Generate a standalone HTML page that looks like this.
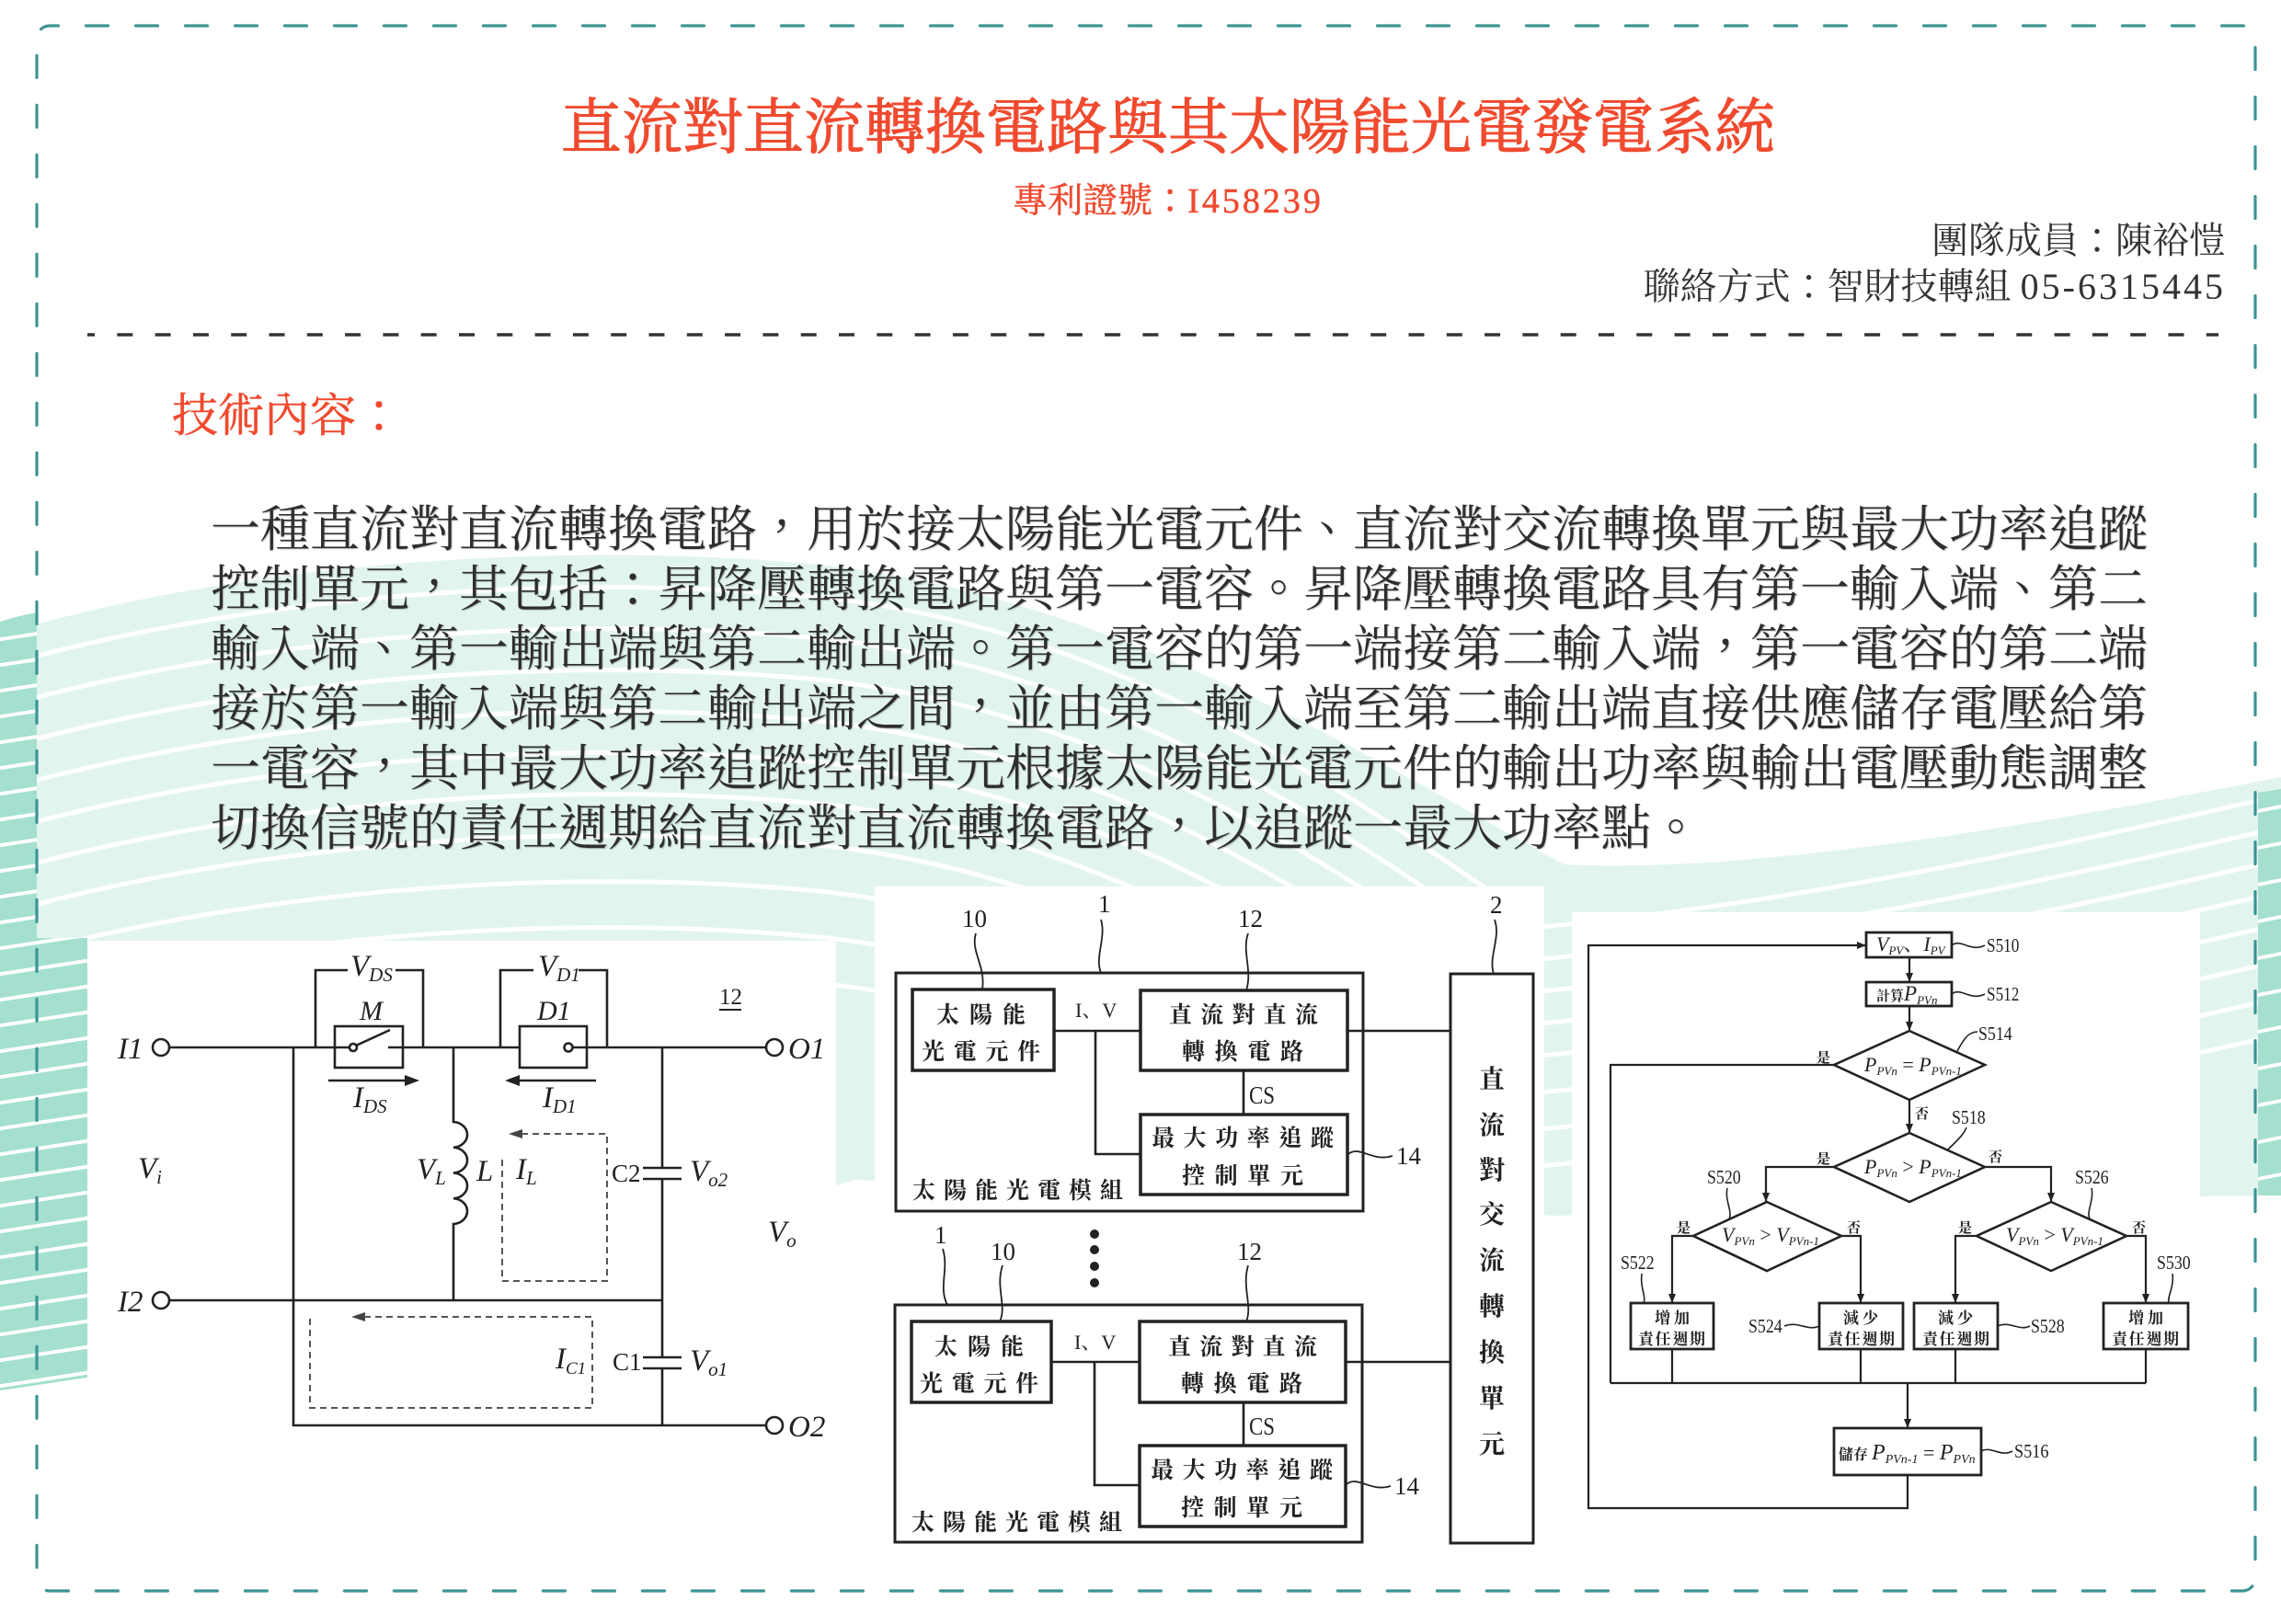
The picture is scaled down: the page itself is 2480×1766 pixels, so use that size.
<!DOCTYPE html>
<html lang="zh-Hant">
<head>
<meta charset="utf-8">
<style>
  html,body{margin:0;padding:0;background:#fff;}
  body{width:2480px;height:1766px;position:relative;overflow:hidden;}
  .t{position:absolute;white-space:nowrap;font-family:"Liberation Serif","Noto Serif CJK SC",serif;}
  .title{left:0;width:2540px;text-align:center;top:107px;font-size:66px;line-height:66px;color:#f04a2f;-webkit-text-stroke:1px #f04a2f;}
  .pat{left:0;width:2540px;text-align:center;top:200px;font-size:38px;line-height:38px;color:#f04a2f;-webkit-text-stroke:0.5px #f04a2f;}
  .pat span{letter-spacing:3px;}
  .team{right:60px;top:242px;font-size:40px;line-height:40px;color:#333;}
  .contact{right:60px;top:292px;font-size:40px;line-height:40px;color:#333;}
  .contact span{letter-spacing:3px;}
  .sec{left:187px;top:427px;font-size:50px;line-height:50px;color:#f04a2f;-webkit-text-stroke:0.5px #f04a2f;}
  .body{left:229px;width:2104px;font-size:54px;line-height:54px;color:#2e2e2e;text-align:justify;text-align-last:justify;text-shadow:1px 1px 1px rgba(0,0,0,0.22);}
  .body.last{text-align-last:left;}
  svg{position:absolute;left:0;top:0;}
</style>
</head>
<body>

<!-- background -->
<svg width="2480" height="1766" viewBox="0 0 2480 1766">
  <defs>
    <clipPath id="mintc">
      <path d="M0 690 C250 615,600 585,900 615 C1200 650,1450 800,1700 940 C1900 950,2200 900,2480 845 L2480 1300 C2200 1302,1900 1315,1690 1322 C1400 1310,1100 1290,930 1283 C600 1380,300 1470,0 1512 Z"/>
    </clipPath>
    <clipPath id="darkc">
      <path d="M0 676 C15 671,30 668,40 666 L40 1020 L95 1020 L95 1498 C60 1503,30 1508,0 1512 Z M2455 862 L2480 858 L2480 1300 L2455 1300 Z"/>
    </clipPath>
  </defs>
  <path d="M0 690 C250 615,600 585,900 615 C1200 650,1450 800,1700 940 C1900 950,2200 900,2480 845 L2480 1300 C2200 1302,1900 1315,1690 1322 C1400 1310,1100 1290,930 1283 C600 1380,300 1470,0 1512 Z" fill="#e2f4ee"/>
  <g clip-path="url(#mintc)" fill="none" stroke="#fff" stroke-width="5">
    <path d="M-20 730 C250 650,600 620,900 650 C1200 685,1420 830,1650 990"/>
    <path d="M-20 775 C250 695,600 665,900 695 C1200 730,1420 875,1650 1035"/>
    <path d="M-20 820 C250 740,600 710,900 740 C1200 775,1420 920,1650 1080"/>
    <path d="M-20 865 C250 785,600 755,900 785 C1200 820,1420 965,1650 1125"/>
    <path d="M-20 910 C250 830,600 800,900 830 C1200 865,1420 1010,1650 1170"/>
    <path d="M-20 955 C250 875,600 845,900 875 C1200 910,1420 1055,1650 1215"/>
    <path d="M-20 1000 C250 920,600 890,900 920 C1200 955,1420 1100,1650 1260"/>
    <path d="M-20 1050 C250 970,600 940,900 970 C1200 1005,1420 1150,1650 1310"/>
    <path d="M-20 1100 C250 1020,600 990,900 1020 C1200 1055,1420 1200,1650 1360"/>
    <path d="M-20 1150 C250 1070,600 1040,900 1070 C1200 1105,1420 1250,1650 1410"/>
    <path d="M1650 1010 C1900 990,2200 930,2500 860"/>
    <path d="M1650 1045 C1900 1025,2200 965,2500 895"/>
    <path d="M1650 1080 C1900 1060,2200 1000,2500 930"/>
    <path d="M1650 1115 C1900 1095,2200 1035,2500 965"/>
    <path d="M1650 1150 C1900 1130,2200 1070,2500 1000"/>
    <path d="M1650 1190 C1900 1170,2200 1110,2500 1040"/>
    <path d="M1650 1230 C1900 1210,2200 1150,2500 1080"/>
    <path d="M1650 1270 C1900 1250,2200 1190,2500 1120"/>
  </g>
  <g clip-path="url(#darkc)">
    <rect x="0" y="600" width="2480" height="950" fill="#a4dfcf"/>
    <g stroke="#fff" stroke-width="4">
      <path d="M-5 696 L100 680"/><path d="M-5 724 L100 708"/><path d="M-5 752 L100 736"/><path d="M-5 780 L100 764"/>
      <path d="M-5 808 L100 792"/><path d="M-5 836 L100 820"/><path d="M-5 864 L100 848"/><path d="M-5 892 L100 876"/>
      <path d="M-5 920 L100 904"/><path d="M-5 948 L100 932"/><path d="M-5 976 L100 960"/><path d="M-5 1004 L100 988"/>
      <path d="M-5 1032 L100 1016"/><path d="M-5 1060 L100 1044"/><path d="M-5 1088 L100 1072"/><path d="M-5 1116 L100 1100"/>
      <path d="M-5 1144 L100 1128"/><path d="M-5 1172 L100 1156"/><path d="M-5 1200 L100 1184"/><path d="M-5 1228 L100 1212"/>
      <path d="M-5 1256 L100 1240"/><path d="M-5 1284 L100 1268"/><path d="M-5 1312 L100 1296"/><path d="M-5 1340 L100 1324"/>
      <path d="M-5 1368 L100 1352"/><path d="M-5 1396 L100 1380"/><path d="M-5 1424 L100 1408"/><path d="M-5 1452 L100 1436"/>
      <path d="M-5 1480 L100 1464"/><path d="M-5 1508 L100 1492"/>
      <path d="M2440 885 L2490 875"/><path d="M2440 925 L2490 915"/><path d="M2440 965 L2490 955"/><path d="M2440 1005 L2490 995"/>
      <path d="M2440 1045 L2490 1035"/><path d="M2440 1085 L2490 1075"/><path d="M2440 1125 L2490 1115"/><path d="M2440 1165 L2490 1155"/>
      <path d="M2440 1205 L2490 1195"/><path d="M2440 1245 L2490 1235"/><path d="M2440 1285 L2490 1275"/>
    </g>
  </g>
  <!-- outer dashed border -->
  <rect x="40" y="28" width="2412" height="1702" rx="14" ry="14" fill="none" stroke="#3d9494" stroke-width="3.2" stroke-dasharray="24 30" stroke-dashoffset="14.5" stroke-linecap="round"/>
  <!-- separator -->
  <line x1="95" y1="364" x2="2412" y2="364" stroke="#333" stroke-width="3.5" stroke-dasharray="17 24.3" stroke-dashoffset="9"/>
</svg>

<!-- text -->
<div class="t title">直流對直流轉換電路與其太陽能光電發電系統</div>
<div class="t pat">專利證號：<span>I458239</span></div>
<div class="t team">團隊成員：陳裕愷</div>
<div class="t contact">聯絡方式：智財技轉組 <span>05-6315445</span></div>
<div class="t sec">技術內容：</div>

<div class="t body" style="top:549px">一種直流對直流轉換電路，用於接太陽能光電元件、直流對交流轉換單元與最大功率追蹤</div>
<div class="t body" style="top:614px">控制單元，其包括：昇降壓轉換電路與第一電容。昇降壓轉換電路具有第一輸入端、第二</div>
<div class="t body" style="top:679px">輸入端、第一輸出端與第二輸出端。第一電容的第一端接第二輸入端，第一電容的第二端</div>
<div class="t body" style="top:744px">接於第一輸入端與第二輸出端之間，並由第一輸入端至第二輸出端直接供應儲存電壓給第</div>
<div class="t body" style="top:809px">一電容，其中最大功率追蹤控制單元根據太陽能光電元件的輸出功率與輸出電壓動態調整</div>
<div class="t body last" style="top:874px">切換信號的責任週期給直流對直流轉換電路，以追蹤一最大功率點。</div>

<!-- diagrams -->
<svg width="2480" height="1766" viewBox="0 0 2480 1766" font-family="'Liberation Serif', 'Noto Serif CJK SC', serif">
  <defs>
    <marker id="ah" markerWidth="10" markerHeight="8" refX="10" refY="4" orient="auto" markerUnits="userSpaceOnUse">
      <path d="M0 0 L10 4 L0 8 Z" fill="#222"/>
    </marker>
  </defs>
  <!-- panels -->
  <rect x="95" y="1023" width="814" height="577" fill="#fff"/>
  <rect x="951" y="964" width="728" height="736" fill="#fff"/>
  <rect x="1709" y="992" width="683" height="692" fill="#fff"/>

  <!-- ================= CIRCUIT ================= -->
  <g fill="none" stroke="#222" stroke-width="2.6">
    <path d="M184 1139 H380"/>
    <path d="M422 1139 H565 M622 1139 H833"/>
    <path d="M387 1137 L424 1120"/>
    <rect x="364" y="1116" width="74" height="45"/>
    <rect x="565" y="1116" width="73" height="45"/>
    <path d="M343 1139 V1055 H378 M430 1055 H460 V1139"/>
    <path d="M544 1139 V1055 H580 M629 1055 H660 V1139"/>
    <path d="M319 1139 V1550 H833"/>
    <path d="M184 1414 H720"/>
    <path d="M493 1139 V1220 a16 13.9 0 0 1 0 27.75 a16 13.9 0 0 1 0 27.75 a16 13.9 0 0 1 0 27.75 a16 13.9 0 0 1 0 27.75 V1414"/>
    <path d="M720 1139 V1270 M699 1270 H741 M699 1282 H741 M720 1282 V1476 M699 1476 H741 M699 1488 H741 M720 1488 V1550"/>
    <circle cx="384" cy="1139" r="4"/>
    <circle cx="618" cy="1139" r="4.5"/>
    <circle cx="175" cy="1139" r="9" fill="#fff"/>
    <circle cx="842" cy="1139" r="9" fill="#fff"/>
    <circle cx="175" cy="1414" r="9" fill="#fff"/>
    <circle cx="842" cy="1550" r="9" fill="#fff"/>
    <path d="M357 1175 H442 M648 1175 H563"/>
  </g>
  <g fill="#222">
    <polygon points="456,1175 440,1169 440,1181"/>
    <polygon points="549,1175 565,1169 565,1181"/>
    <polygon points="553,1233 568,1228 568,1238" fill="#444"/>
    <polygon points="382,1432 397,1427 397,1437" fill="#444"/>
  </g>
  <g fill="none" stroke="#555" stroke-width="2" stroke-dasharray="7 5">
    <path d="M567 1233 H660 V1393 H546 V1259"/>
    <path d="M396 1432 H644 V1531 H337 V1432"/>
  </g>
  <g fill="#222" font-style="italic" font-size="33">
    <text x="128" y="1151">I1</text>
    <text x="857" y="1151">O1</text>
    <text x="128" y="1426">I2</text>
    <text x="857" y="1562">O2</text>
    <text x="391" y="1109" font-size="30">M</text>
    <text x="584" y="1109" font-size="30">D1</text>
    <text x="381" y="1061">V<tspan font-size="21" dy="6">DS</tspan></text>
    <text x="585" y="1061">V<tspan font-size="21" dy="6">D1</tspan></text>
    <text x="384" y="1204">I<tspan font-size="21" dy="6">DS</tspan></text>
    <text x="590" y="1204">I<tspan font-size="21" dy="6">D1</tspan></text>
    <text x="453" y="1282">V<tspan font-size="21" dy="6">L</tspan></text>
    <text x="518" y="1284">L</text>
    <text x="561" y="1282">I<tspan font-size="21" dy="6">L</tspan></text>
    <text x="750" y="1284">V<tspan font-size="21" dy="6">o2</tspan></text>
    <text x="750" y="1490">V<tspan font-size="21" dy="6">o1</tspan></text>
    <text x="604" y="1488">I<tspan font-size="19" dy="6">C1</tspan></text>
    <text x="150" y="1281">V<tspan font-size="21" dy="6">i</tspan></text>
    <text x="835" y="1350">V<tspan font-size="21" dy="6">o</tspan></text>
  </g>
  <g fill="#222" font-size="27">
    <text x="665" y="1285">C2</text>
    <text x="666" y="1490">C1</text>
    <text x="782" y="1092" font-size="25">12</text>
  </g>
  <line x1="782" y1="1098" x2="806" y2="1098" stroke="#222" stroke-width="2"/>

  <!-- ================= BLOCK DIAGRAM ================= -->
  <g fill="none" stroke="#222">
    <g stroke-width="3">
      <rect x="974" y="1058" width="508" height="259"/>
      <rect x="973" y="1419" width="508" height="258"/>
      <rect x="1577" y="1059" width="90" height="619"/>
    </g>
    <g stroke-width="3.5">
      <rect x="992" y="1076" width="154" height="88"/>
      <rect x="1240" y="1077" width="225" height="87"/>
      <rect x="1240" y="1212" width="225" height="87"/>
      <rect x="991" y="1437" width="152" height="88"/>
      <rect x="1239" y="1437" width="224" height="88"/>
      <rect x="1239" y="1572" width="224" height="88"/>
    </g>
    <g stroke-width="2.6">
      <path d="M1146 1121 H1240 M1191 1121 V1255 H1240 M1352 1164 V1212 M1465 1121 H1577"/>
      <path d="M1143 1481 H1239 M1190 1481 V1615 H1239 M1352 1525 V1572 M1463 1481 H1577"/>
    </g>
    <g stroke-width="1.8">
      <path d="M1466 1255 C1478 1245,1492 1264,1514 1257"/>
      <path d="M1464 1614 C1476 1604,1490 1623,1512 1616"/>
      <path d="M1061 1015 C1055 1035,1072 1050,1068 1076"/>
      <path d="M1197 1000 C1203 1020,1190 1040,1197 1058"/>
      <path d="M1357 1015 C1350 1035,1362 1055,1355 1077"/>
      <path d="M1625 1000 C1632 1020,1618 1040,1624 1059"/>
      <path d="M1025 1358 C1032 1380,1020 1400,1030 1419"/>
      <path d="M1090 1376 C1082 1400,1095 1420,1087 1437"/>
      <path d="M1357 1376 C1350 1400,1362 1420,1355 1437"/>
    </g>
  </g>
  <g fill="#222">
    <circle cx="1190" cy="1342" r="5"/>
    <circle cx="1190" cy="1359" r="5"/>
    <circle cx="1190" cy="1377" r="5"/>
    <circle cx="1190" cy="1395" r="5"/>
  </g>
  <g fill="#222" font-family="'Liberation Serif', 'Noto Serif CJK SC', serif" font-weight="bold" font-size="25" lengthAdjust="spacing">
    <text x="1018" y="1112" textLength="97">太陽能</text>
    <text x="1002" y="1152" textLength="129">光電元件</text>
    <text x="1271" y="1112" textLength="162">直流對直流</text>
    <text x="1285" y="1152" textLength="132">轉換電路</text>
    <text x="1252" y="1246" textLength="198">最大功率追蹤</text>
    <text x="1285" y="1287" textLength="132">控制單元</text>
    <text x="992" y="1303" textLength="229">太陽能光電模組</text>

    <text x="1016" y="1473" textLength="97">太陽能</text>
    <text x="1000" y="1513" textLength="129">光電元件</text>
    <text x="1270" y="1473" textLength="162">直流對直流</text>
    <text x="1284" y="1513" textLength="132">轉換電路</text>
    <text x="1251" y="1607" textLength="198">最大功率追蹤</text>
    <text x="1284" y="1648" textLength="132">控制單元</text>
    <text x="991" y="1664" textLength="229">太陽能光電模組</text>
  </g>
  <g fill="#222" font-weight="bold" font-size="28" text-anchor="middle" font-family="'Liberation Serif', 'Noto Serif CJK SC', serif">
    <text x="1622" y="1183">直</text>
    <text x="1622" y="1233">流</text>
    <text x="1622" y="1282">對</text>
    <text x="1622" y="1330">交</text>
    <text x="1622" y="1380">流</text>
    <text x="1622" y="1430">轉</text>
    <text x="1622" y="1480">換</text>
    <text x="1622" y="1530">單</text>
    <text x="1622" y="1580">元</text>
  </g>
  <g fill="#222" font-size="27">
    <text x="1169" y="1106" font-size="22">I、V</text>
    <text x="1168" y="1467" font-size="22">I、V</text>
    <text transform="translate(1358 1200) scale(0.85 1)" font-size="27">CS</text>
    <text transform="translate(1358 1560) scale(0.85 1)" font-size="27">CS</text>
    <text x="1518" y="1266">14</text>
    <text x="1516" y="1625">14</text>
    <text x="1046" y="1008">10</text>
    <text x="1194" y="992">1</text>
    <text x="1346" y="1008">12</text>
    <text x="1620" y="993">2</text>
    <text x="1016" y="1352">1</text>
    <text x="1077" y="1370">10</text>
    <text x="1345" y="1370">12</text>
  </g>

  <!-- ================= FLOWCHART ================= -->
  <g fill="none" stroke="#222" stroke-width="2.2">
    <rect x="2029" y="1014" width="93" height="27" stroke-width="2.8"/>
    <rect x="2029" y="1068" width="93" height="26" stroke-width="2.8"/>
    <path d="M2076 1121 L2158 1158 L2076 1196 L1994 1158 Z" stroke-width="2.6"/>
    <path d="M2076 1232 L2158 1269 L2076 1307 L1994 1269 Z" stroke-width="2.6"/>
    <path d="M1921 1307 L2002 1344 L1921 1382 L1841 1344 Z" stroke-width="2.6"/>
    <path d="M2230 1307 L2312 1344 L2230 1382 L2149 1344 Z" stroke-width="2.6"/>
    <rect x="1773" y="1417" width="90" height="50" stroke-width="2.8"/>
    <rect x="1978" y="1417" width="91" height="50" stroke-width="2.8"/>
    <rect x="2081" y="1417" width="91" height="50" stroke-width="2.8"/>
    <rect x="2287" y="1417" width="92" height="50" stroke-width="2.8"/>
    <rect x="1994" y="1553" width="160" height="51" stroke-width="2.8"/>
    <path d="M2074 1604 V1640 H1727 V1028 H2029" marker-end="url(#ah)"/>
    <path d="M2076 1041 V1068" marker-end="url(#ah)"/>
    <path d="M2076 1094 V1121" marker-end="url(#ah)"/>
    <path d="M1994 1158 H1751 V1504"/>
    <path d="M2076 1196 V1232" marker-end="url(#ah)"/>
    <path d="M1994 1269 H1920 V1307" marker-end="url(#ah)"/>
    <path d="M2158 1269 H2230 V1307" marker-end="url(#ah)"/>
    <path d="M1841 1344 H1818 V1417" marker-end="url(#ah)"/>
    <path d="M2002 1344 H2023 V1417" marker-end="url(#ah)"/>
    <path d="M2149 1344 H2126 V1417" marker-end="url(#ah)"/>
    <path d="M2312 1344 H2333 V1417" marker-end="url(#ah)"/>
    <path d="M1818 1467 V1504 M2023 1467 V1504 M2126 1467 V1504 M2333 1467 V1504 M1751 1504 H2333"/>
    <path d="M2074 1504 V1553" marker-end="url(#ah)"/>
  </g>
  <g fill="none" stroke="#222" stroke-width="1.6">
    <path d="M2122 1028 C2132 1020,2142 1036,2158 1028"/>
    <path d="M2122 1081 C2132 1073,2142 1089,2158 1081"/>
    <path d="M2128 1143 C2135 1130,2140 1122,2150 1122"/>
    <path d="M2118 1250 C2128 1240,2135 1234,2138 1226"/>
    <path d="M1878 1292 C1875 1305,1884 1318,1880 1325"/>
    <path d="M2274 1292 C2277 1305,2268 1318,2272 1325"/>
    <path d="M1785 1385 C1783 1400,1790 1410,1787 1417"/>
    <path d="M2362 1385 C2364 1400,2356 1410,2358 1417"/>
    <path d="M1940 1442 C1955 1436,1965 1448,1978 1442"/>
    <path d="M2172 1442 C2185 1436,2195 1448,2207 1442"/>
    <path d="M2154 1578 C2165 1572,2175 1585,2188 1578"/>
  </g>
  <g fill="#222" font-size="21">
    <text transform="translate(2160 1035) scale(0.82 1)">S510</text>
    <text transform="translate(2160 1088) scale(0.82 1)">S512</text>
    <text transform="translate(2151 1131) scale(0.85 1)">S514</text>
    <text transform="translate(2122 1222) scale(0.85 1)">S518</text>
    <text transform="translate(1856 1287) scale(0.85 1)">S520</text>
    <text transform="translate(2256 1287) scale(0.85 1)">S526</text>
    <text transform="translate(1762 1380) scale(0.85 1)">S522</text>
    <text transform="translate(2345 1380) scale(0.85 1)">S530</text>
    <text transform="translate(1901 1449) scale(0.85 1)">S524</text>
    <text transform="translate(2208 1449) scale(0.85 1)">S528</text>
    <text transform="translate(2190 1585) scale(0.87 1)">S516</text>
  </g>
  <g fill="#222" font-size="15" font-weight="bold" font-family="'Noto Serif CJK SC', serif">
    <text x="1975" y="1155">是</text>
    <text x="2082" y="1216">否</text>
    <text x="1975" y="1265">是</text>
    <text x="2162" y="1263">否</text>
    <text x="1823" y="1340">是</text>
    <text x="2008" y="1340">否</text>
    <text x="2129" y="1340">是</text>
    <text x="2318" y="1340">否</text>
  </g>
  <g fill="#222" font-size="17" font-weight="bold" font-family="'Liberation Serif', 'Noto Serif CJK SC', serif" lengthAdjust="spacing">
    <text x="1799" y="1439" textLength="38">增加</text>
    <text x="1781" y="1462" textLength="73">責任週期</text>
    <text x="2004" y="1439" textLength="38">減少</text>
    <text x="1987" y="1462" textLength="73">責任週期</text>
    <text x="2107" y="1439" textLength="38">減少</text>
    <text x="2090" y="1462" textLength="73">責任週期</text>
    <text x="2314" y="1439" textLength="38">增加</text>
    <text x="2296" y="1462" textLength="73">責任週期</text>
  </g>
  <g fill="#222" font-size="22">
    <text x="2040" y="1034"><tspan font-style="italic">V</tspan><tspan font-style="italic" font-size="13" dy="4">PV</tspan><tspan dy="-4">、</tspan><tspan font-style="italic">I</tspan><tspan font-style="italic" font-size="13" dy="4">PV</tspan></text>
    <text x="2040" y="1088"><tspan font-size="15" font-weight="bold">計算</tspan><tspan font-style="italic" font-size="23">P</tspan><tspan font-style="italic" font-size="13" dy="4">PVn</tspan></text>
    <text x="2027" y="1165"><tspan font-style="italic">P</tspan><tspan font-style="italic" font-size="13" dy="4">PVn</tspan><tspan dy="-4"> = </tspan><tspan font-style="italic">P</tspan><tspan font-style="italic" font-size="13" dy="4">PVn-1</tspan></text>
    <text x="2027" y="1276"><tspan font-style="italic">P</tspan><tspan font-style="italic" font-size="13" dy="4">PVn</tspan><tspan dy="-4"> &gt; </tspan><tspan font-style="italic">P</tspan><tspan font-style="italic" font-size="13" dy="4">PVn-1</tspan></text>
    <text x="1872" y="1350"><tspan font-style="italic">V</tspan><tspan font-style="italic" font-size="13" dy="4">PVn</tspan><tspan dy="-4"> &gt; </tspan><tspan font-style="italic">V</tspan><tspan font-style="italic" font-size="13" dy="4">PVn-1</tspan></text>
    <text x="2181" y="1350"><tspan font-style="italic">V</tspan><tspan font-style="italic" font-size="13" dy="4">PVn</tspan><tspan dy="-4"> &gt; </tspan><tspan font-style="italic">V</tspan><tspan font-style="italic" font-size="13" dy="4">PVn-1</tspan></text>
    <text x="1999" y="1587"><tspan font-size="16" font-weight="bold">儲存 </tspan><tspan font-style="italic" font-size="24">P</tspan><tspan font-style="italic" font-size="14" dy="4">PVn-1</tspan><tspan dy="-4"> = </tspan><tspan font-style="italic" font-size="24">P</tspan><tspan font-style="italic" font-size="14" dy="4">PVn</tspan></text>
  </g>
</svg>

</body>
</html>
